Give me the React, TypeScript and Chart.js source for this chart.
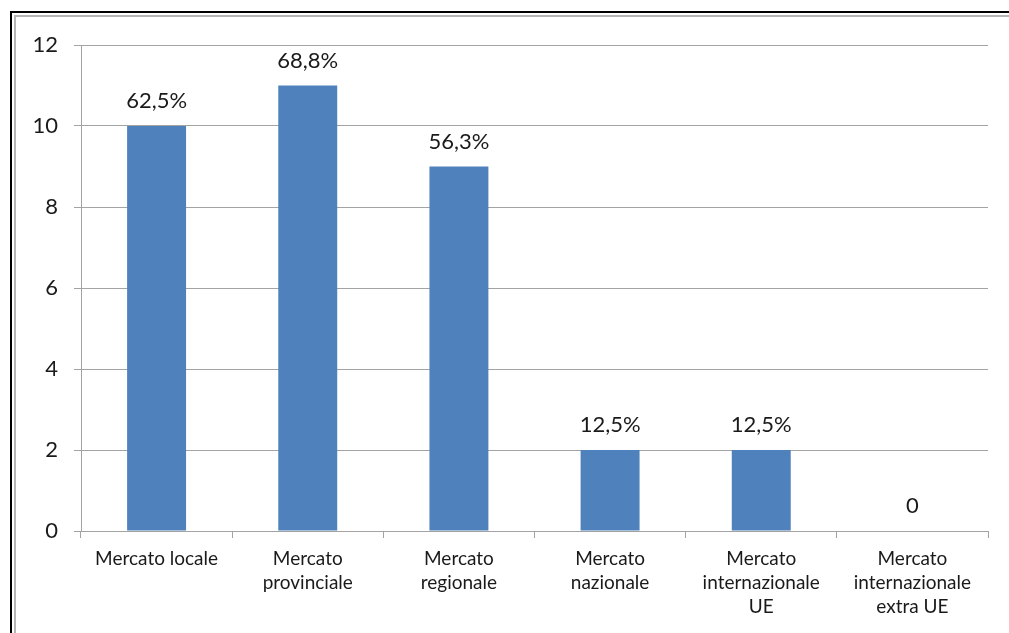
import React, { useEffect, useRef } from "react";
import { Chart, registerables } from "chart.js";

Chart.register(...registerables);

const categories: string[][] = [
  ["Mercato locale"],
  ["Mercato", "provinciale"],
  ["Mercato", "regionale"],
  ["Mercato", "nazionale"],
  ["Mercato", "internazionale", "UE"],
  ["Mercato", "internazionale", "extra UE"],
];
const values: number[] = [10, 11, 9, 2, 2, 0];
const dataLabels: string[] = ["62,5%", "68,8%", "56,3%", "12,5%", "12,5%", "0"];
const yTicks: number[] = [0, 2, 4, 6, 8, 10, 12];

const FONT = "Lato, 'Open Sans', sans-serif";
const GRID = "#a3a3a3";

const labelPlugin = {
  id: "barLabels",
  afterDatasetsDraw(chart: any) {
    const ctx = chart.ctx;
    const meta = chart.getDatasetMeta(0);
    ctx.save();
    ctx.font = `22px ${FONT}`;
    ctx.fillStyle = "#1a1a1a";
    ctx.textAlign = "center";
    ctx.textBaseline = "alphabetic";
    meta.data.forEach((el: any, i: number) => {
      ctx.fillText(dataLabels[i], el.x, el.y - 18);
    });
    ctx.restore();
  },
};

export default function App() {
  const ref = useRef<HTMLCanvasElement | null>(null);
  useEffect(() => {
    if (!ref.current) return;
    const chart = new Chart(ref.current, {
      type: "bar",
      data: {
        labels: categories,
        datasets: [
          {
            data: values,
            backgroundColor: "#4F81BD",
            borderWidth: 0,
            categoryPercentage: 1,
            barPercentage: 0.39,
          },
        ],
      },
      options: {
        animation: false,
        responsive: false,
        maintainAspectRatio: false,
        layout: { padding: { top: 45, right: 21, left: 0, bottom: 0 } },
        plugins: { legend: { display: false }, tooltip: { enabled: false } },
        scales: {
          x: {
            grid: {
              drawOnChartArea: false,
              drawTicks: true,
              tickLength: 7,
              color: GRID,
            },
            border: { color: GRID, width: 1 },
            ticks: {
              font: { family: FONT, size: 19, lineHeight: 1.25 },
              color: "#1a1a1a",
              padding: 9,
              maxRotation: 0,
              autoSkip: false,
            },
            afterFit(scale: any) {
              scale.height = 102;
            },
          },
          y: {
            min: 0,
            max: 12,
            afterBuildTicks(scale: any) {
              scale.ticks = yTicks.map((v) => ({ value: v }));
            },
            grid: { color: GRID, tickLength: 7 },
            border: { color: GRID, width: 1 },
            ticks: {
              font: { family: FONT, size: 22 },
              color: "#1a1a1a",
              padding: 16,
            },
            afterFit(scale: any) {
              scale.width = 81;
            },
          },
        },
      },
      plugins: [labelPlugin],
    });
    return () => chart.destroy();
  }, []);

  return (
    <div>
      <canvas
        ref={ref}
        width={1009}
        height={633}
        style={{ position: "fixed", left: 0, top: 0, width: 1009, height: 633, background: "#fff" }}
      />
      <div
        style={{
          position: "fixed",
          left: 10,
          top: 11,
          width: 1200,
          height: 800,
          borderLeft: "2px solid #000",
          borderTop: "2px solid #000",
          pointerEvents: "none",
        }}
      />
      <div
        style={{
          position: "fixed",
          left: 14,
          top: 15,
          width: 1200,
          height: 800,
          borderLeft: "2px solid #b5b5b5",
          borderTop: "2px solid #b5b5b5",
          pointerEvents: "none",
        }}
      />
    </div>
  );
}
